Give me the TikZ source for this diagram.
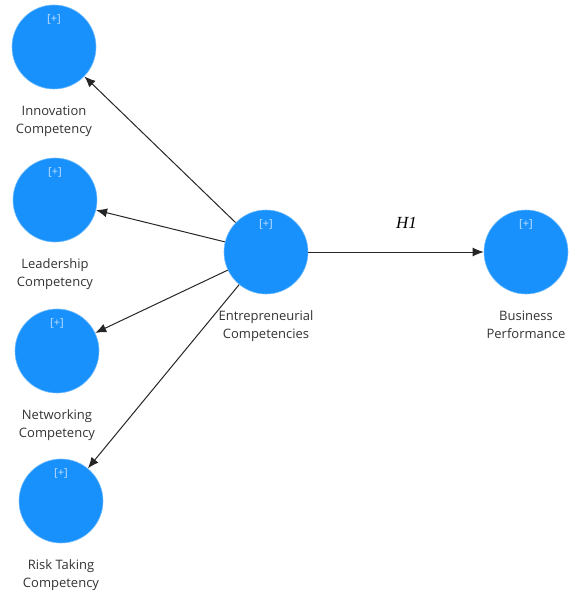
\documentclass[tikz,border=0pt]{standalone}
\usepackage{fontspec}
\setmainfont{Open Sans}
\newfontfamily\hypfont{Liberation Serif}
\usetikzlibrary{positioning,arrows.meta}

\definecolor{lvblue}{RGB}{24,145,252}
\definecolor{plusblue}{RGB}{200,226,255}

\tikzset{
	lv/.style={circle, fill=lvblue, draw=lvblue!60, line width=0.6pt, minimum size=84pt, inner sep=0pt},
	lvname/.style={align=center, font=\fontsize{13}{18}\selectfont, text=black!80, inner sep=0pt},
	plus/.style={font=\fontsize{11}{11}\selectfont, text=plusblue, inner sep=0pt},
	lvpath/.style={draw=black!85, line width=1pt, -{Latex[length=11pt,width=9pt]}}
}

\begin{document}
\begin{tikzpicture}[x=1pt,y=-1pt]
	
	\useasboundingbox (0,0) rectangle (569,596);
	
	\node[lv] (inn) at (54,47) {};
	\node[lv] (lea) at (55,200) {};
	\node[lv] (net) at (57,351) {};
	\node[lv] (ris) at (61,501) {};
	\node[lv] (ent) at (266,252) {};
	\node[lv] (bus) at (526,252) {};
	
	% indicator marks
	\foreach \c in {inn,lea,net,ris,ent,bus}
	\node[plus, below=10pt of \c.north] (\c-plus) {[+]};
	
	\node[lvname, below=16pt of inn] (inn-name) {Innovation\\Competency};
	\node[lvname, below=16pt of lea] (lea-name) {Leadership\\Competency};
	\node[lvname, below=16pt of net] (net-name) {Networking\\Competency};
	\node[lvname, below=16pt of ris] (ris-name) {Risk Taking\\Competency};
	\node[lvname, below=16pt of ent] (ent-name) {Entrepreneurial\\Competencies};
	\node[lvname, below=16pt of bus] (bus-name) {Business\\Performance};
	
	\draw[lvpath] (ent) -- (inn);
	\draw[lvpath] (ent) -- (lea);
	\draw[lvpath] (ent) -- (net);
	\draw[lvpath] (ent) -- (ris);
	\draw[lvpath] (ent) -- (bus) node[pos=0.56, above=20pt, font=\hypfont\itshape\fontsize{17}{17}\selectfont] (h1) {H1};
	
\end{tikzpicture}
\end{document}
